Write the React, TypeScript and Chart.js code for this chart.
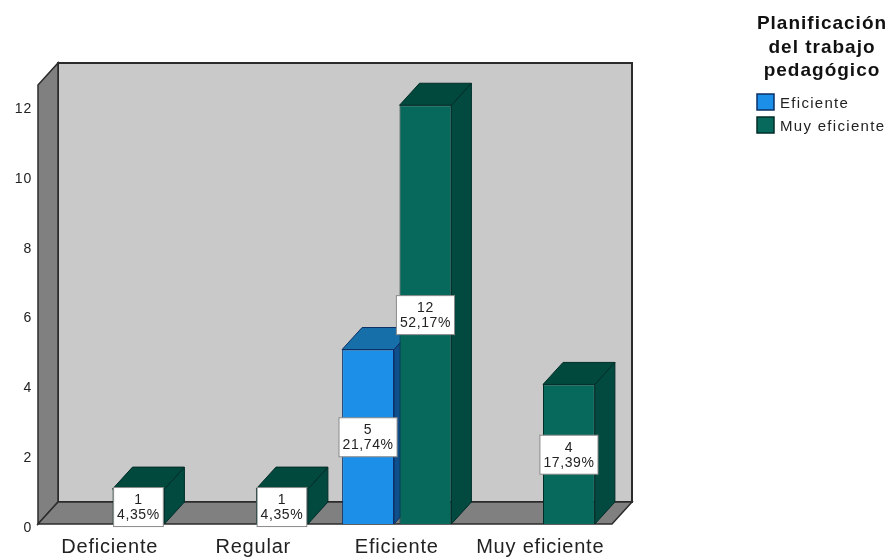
import React, { useEffect, useRef } from "react";
import { Chart, registerables } from "chart.js";

Chart.register(...registerables);

const categories = ["Deficiente", "Regular", "Eficiente", "Muy eficiente"];
const eficienteCounts = [null, null, 5, null];
const muyEficienteCounts = [1, 1, 12, 4];
const eficientePercents = [null, null, "21,74%", null];
const muyEficientePercents = ["4,35%", "4,35%", "52,17%", "17,39%"];
const yTicksMax = 12.58;
const legendTitle = ["Planificación", "del trabajo", "pedagógico"];

const FONT = '"Liberation Sans", Arial, sans-serif';
const DEPTH_X = 20;
const DEPTH_Y = 22;

type Faces = { front: string; top: string; side: string; line: string };
const blueFaces: Faces = { front: "#1c90e8", top: "#176fa9", side: "#0f4f8c", line: "#0b2f66" };
const tealFaces: Faces = { front: "#07695c", top: "#01493d", side: "#024a40", line: "#012c28" };

function poly(ctx: CanvasRenderingContext2D, pts: number[][], fill: string, stroke?: string, lw = 1) {
  ctx.beginPath();
  pts.forEach(([x, y], i) => (i ? ctx.lineTo(x, y) : ctx.moveTo(x, y)));
  ctx.closePath();
  ctx.fillStyle = fill;
  ctx.fill();
  if (stroke) {
    ctx.strokeStyle = stroke;
    ctx.lineWidth = lw;
    ctx.stroke();
  }
}

// Top and side faces sit behind the front face that Chart.js draws.
function drawDepthFaces(chart: any, index: number) {
  const faces = index === 0 ? blueFaces : tealFaces;
  const values = chart.data.datasets[index].data;
  const { ctx } = chart;
  ctx.save();
  chart.getDatasetMeta(index).data.forEach((el: any, j: number) => {
    if (values[j] == null) return;
    const half = el.width / 2;
    const l = el.x - half, r = el.x + half, t = el.y, b = el.base;
    poly(ctx, [[r, t], [r + DEPTH_X, t - DEPTH_Y], [r + DEPTH_X, b - DEPTH_Y], [r, b]], faces.side, faces.line);
    poly(ctx, [[l, t], [l + DEPTH_X, t - DEPTH_Y], [r + DEPTH_X, t - DEPTH_Y], [r, t]], faces.top, faces.line);
  });
  ctx.restore();
}

const roomPlugin = {
  id: "room",
  beforeDraw(chart: any) {
    chart.ctx.letterSpacing = "0.8px";
  },
  // Room behind the bars: back wall, left wall and floor.
  beforeDatasetsDraw(chart: any) {
    const { ctx, chartArea: a } = chart;
    ctx.letterSpacing = "0px";
    ctx.save();
    const edge = "#2b2b2b";
    poly(ctx, [[a.left + DEPTH_X, a.top - DEPTH_Y], [a.right + DEPTH_X, a.top - DEPTH_Y], [a.right + DEPTH_X, a.bottom - DEPTH_Y], [a.left + DEPTH_X, a.bottom - DEPTH_Y]], "#c9c9c9", edge, 2);
    poly(ctx, [[a.left, a.top], [a.left + DEPTH_X, a.top - DEPTH_Y], [a.left + DEPTH_X, a.bottom - DEPTH_Y], [a.left, a.bottom]], "#808080", edge, 1.5);
    poly(ctx, [[a.left, a.bottom], [a.left + DEPTH_X, a.bottom - DEPTH_Y], [a.right + DEPTH_X, a.bottom - DEPTH_Y], [a.right, a.bottom]], "#808080", edge, 1.5);
    ctx.restore();
  },
  // The blue series sits left of the teal one but must be painted before it,
  // since the teal front face hides most of the blue side face.
  beforeDatasetDraw(chart: any, args: any) {
    if (args.index === 0) return false;
    drawDepthFaces(chart, 0);
    chart.getDatasetMeta(0).controller.draw();
    drawDepthFaces(chart, 1);
    return true;
  },
  afterDatasetsDraw(chart: any) {
    const { ctx } = chart;
    ctx.save();
    ctx.font = `14px ${FONT}`;
    ctx.letterSpacing = "0.6px";
    ctx.textAlign = "center";
    ctx.textBaseline = "middle";
    // Blue labels first so the taller teal label overlaps them as a stack.
    chart.data.datasets.forEach((ds: any, i: number) => {
      const percents = i === 0 ? eficientePercents : muyEficientePercents;
      chart.getDatasetMeta(i).data.forEach((el: any, j: number) => {
        const value = ds.data[j];
        if (value == null) return;
        const cy = (el.y + el.base) / 2 + 0.5;
        const w = ctx.measureText(percents[j] as string).width + 7;
        const h = 39;
        ctx.fillStyle = "#ffffff";
        ctx.strokeStyle = "#8a8a8a";
        ctx.lineWidth = 1;
        ctx.fillRect(el.x - w / 2, cy - h / 2, w, h);
        ctx.strokeRect(el.x - w / 2, cy - h / 2, w, h);
        ctx.fillStyle = "#222222";
        ctx.fillText(String(value), el.x, cy - 7);
        ctx.fillText(percents[j] as string, el.x, cy + 8);
      });
    });
    ctx.restore();
  },
  // Legend block with its three-line heading.
  afterDraw(chart: any) {
    const { ctx } = chart;
    ctx.save();
    ctx.textBaseline = "middle";
    ctx.textAlign = "center";
    ctx.fillStyle = "#111111";
    ctx.font = `bold 19px ${FONT}`;
    ctx.letterSpacing = "1px";
    legendTitle.forEach((line, i) => ctx.fillText(line, 822, 24 + i * 23.5));
    ctx.textAlign = "left";
    ctx.font = `15px ${FONT}`;
    ctx.letterSpacing = "1.3px";
    chart.data.datasets.forEach((ds: any, i: number) => {
      const y = 94 + i * 23;
      const faces = i === 0 ? blueFaces : tealFaces;
      ctx.fillStyle = faces.front;
      ctx.strokeStyle = faces.line;
      ctx.lineWidth = 1.5;
      ctx.fillRect(757, y, 17, 16);
      ctx.strokeRect(757, y, 17, 16);
      ctx.fillStyle = "#222222";
      ctx.fillText(ds.label, 780, y + 10);
    });
    ctx.restore();
  },
};

export default function App() {
  const ref = useRef<HTMLCanvasElement>(null);

  useEffect(() => {
    const chart = new Chart(ref.current!, {
      type: "bar",
      data: {
        labels: categories,
        datasets: [
          { label: "Eficiente", data: eficienteCounts, backgroundColor: blueFaces.front, borderColor: blueFaces.line, borderWidth: 1 },
          { label: "Muy eficiente", data: muyEficienteCounts, backgroundColor: tealFaces.front, borderColor: tealFaces.line, borderWidth: 1 },
        ],
      } as any,
      options: {
        animation: false,
        responsive: false,
        layout: { padding: { left: 0, right: 284, top: 85, bottom: 0 } },
        datasets: { bar: { categoryPercentage: 0.8, barPercentage: 0.904 } },
        plugins: { legend: { display: false }, tooltip: { enabled: false } },
        scales: {
          x: {
            grid: { display: false },
            border: { display: false },
            ticks: { color: "#222222", font: { family: FONT, size: 20 }, padding: 3, maxRotation: 0, autoSkip: false },
            afterFit: (s: any) => { s.height = 35; },
          },
          y: {
            min: 0,
            max: yTicksMax,
            grid: { display: false, drawTicks: false },
            border: { display: false },
            ticks: { stepSize: 2, includeBounds: false, color: "#222222", font: { family: FONT, size: 14 }, padding: 6, labelOffset: 4 },
            afterFit: (s: any) => { s.width = 38; },
          },
        },
      } as any,
      plugins: [roomPlugin],
    });
    return () => chart.destroy();
  }, []);

  return (
    <div style={{ position: "fixed", left: 0, top: 0, width: 896, height: 559, background: "#ffffff" }}>
      <canvas ref={ref} width={896} height={559} style={{ display: "block" }} />
    </div>
  );
}
